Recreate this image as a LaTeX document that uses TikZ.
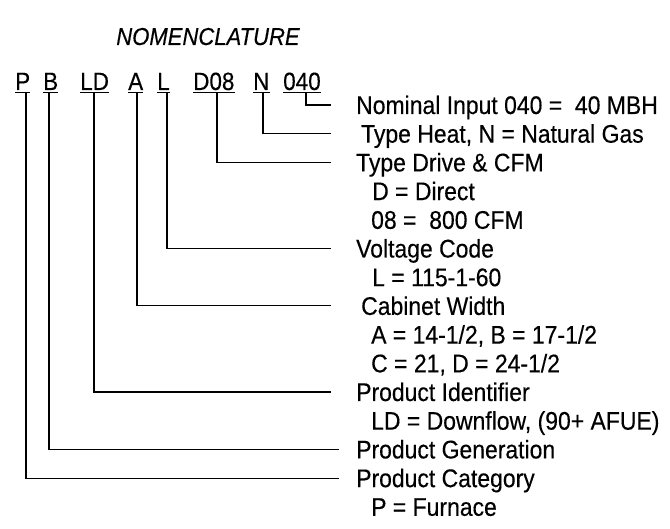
\documentclass[tikz,border=0pt]{standalone}
\usepackage{fontspec}
\setmainfont{Liberation Sans}
\newfontfamily\condfont[FakeStretch=0.9,FakeBold=0.3]{Liberation Sans}
\newfontfamily\condit[FakeStretch=0.9,FakeBold=0.3]{Liberation Sans Italic}
\begin{document}
\begin{tikzpicture}[x=1pt,y=-1pt,
  lbl/.style={anchor=base west, inner sep=0pt, font=\condfont\fontsize{25.5}{30}\selectfont},
  code/.style={anchor=base west, inner sep=0pt, font=\condfont\fontsize{25}{30}\selectfont},
  lead/.style={line width=1.1pt, black},
  uline/.style={line width=1.2pt}]
\useasboundingbox (0,0) rectangle (670,529);
% title
\node[anchor=base, inner sep=0pt, font=\condit\fontsize{24.5}{29}\selectfont] (title) at (208,45) {NOMENCLATURE};
% code letters
\node[code] (cP)   at (15,90)  {P};
\node[code] (cB)   at (43,90)  {B};
\node[code] (cLD)  at (80,90)  {LD};
\node[code] (cA)   at (128,90) {A};
\node[code] (cL)   at (157,90) {L};
\node[code] (cD)   at (193,90) {D08};
\node[code] (cN)   at (253,90) {N};
\node[code] (c040) at (283,90) {040};
\foreach \n in {cP,cB,cLD,cA,cL,cD,cN,c040}
  \draw[uline] ([yshift=-2.5pt]\n.base west) -- ([yshift=-2.5pt]\n.base east);
% labels
\node[lbl] (lNom)  at (356,114.0) {Nominal Input 040 =\ \ 40 MBH};
\node[lbl] (lHeat) at (361,142.7) {Type Heat, N = Natural Gas};
\node[lbl] (lDrv)  at (356,171.4) {Type Drive \& CFM};
\node[lbl] (lDrv1) at (372,200.1) {D = Direct};
\node[lbl] (lDrv2) at (371,228.8) {08 =\ \ 800 CFM};
\node[lbl] (lVolt) at (356,257.5) {Voltage Code};
\node[lbl] (lVolt1) at (372,286.2) {L = 115-1-60};
\node[lbl] (lCab)  at (361,314.9) {Cabinet Width};
\node[lbl] (lCab1) at (371,343.6) {A = 14-1/2, B = 17-1/2};
\node[lbl] (lCab2) at (371,372.3) {C = 21, D = 24-1/2};
\node[lbl] (lPI)   at (356,401.0) {Product Identifier};
\node[lbl] (lPI1)  at (371,429.7) {LD = Downflow, (90+ AFUE)};
\node[lbl] (lPG)   at (356,458.4) {Product Generation};
\node[lbl] (lPC)   at (356,487.1) {Product Category};
\node[lbl] (lPC1)  at (371,515.8) {P = Furnace};
% connector end points
\coordinate (eNom)  at (331,105.0);
\coordinate (eHeat) at (331,133.7);
\coordinate (eDrv)  at (331,162.4);
\coordinate (eVolt) at (331,248.5);
\coordinate (eCab)  at (331,305.9);
\coordinate (ePI)   at (331,392.0);
\coordinate (ePG)   at (339,449.4);
\coordinate (ePC)   at (339,478.1);
% connectors
\draw[lead] ([xshift=23pt,yshift=-3pt]c040.base west) |- (eNom);
\draw[lead] ([xshift=10pt,yshift=-3pt]cN.base west) |- (eHeat);
\draw[lead] ([xshift=24pt,yshift=-3pt]cD.base west) |- (eDrv);
\draw[lead] ([xshift=10pt,yshift=-3pt]cL.base west) |- (eVolt);
\draw[lead] ([xshift=9pt,yshift=-3pt]cA.base west) |- (eCab);
\draw[lead] ([xshift=14pt,yshift=-3pt]cLD.base west) |- (ePI);
\draw[lead] ([xshift=6pt,yshift=-3pt]cB.base west) |- (ePG);
\draw[lead] ([xshift=11pt,yshift=-3pt]cP.base west) |- (ePC);
\end{tikzpicture}
\end{document}
